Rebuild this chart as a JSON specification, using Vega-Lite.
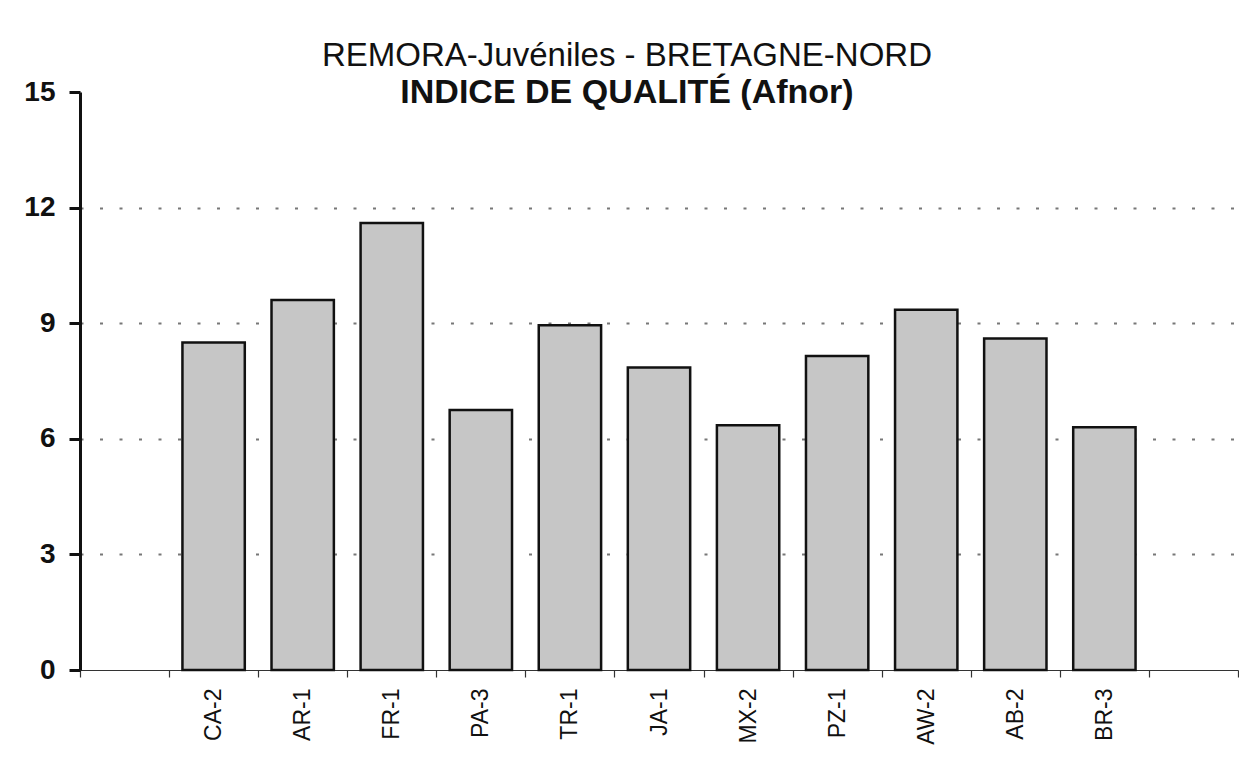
{
  "$schema": "https://vega.github.io/schema/vega-lite/v6.json",
  "width": 1158,
  "height": 578,
  "autosize": {"type": "none"},
  "padding": {"left": 80, "top": 92, "right": 1, "bottom": 91},
  "background": "white",
  "title": {
    "text": "REMORA-Juvéniles - BRETAGNE-NORD",
    "subtitle": "INDICE DE QUALITÉ (Afnor)",
    "anchor": "middle",
    "frame": "group",
    "dx": -32,
    "offset": -32,
    "font": "Liberation Sans",
    "fontSize": 33,
    "fontWeight": "normal",
    "color": "#111111",
    "subtitleFont": "Liberation Sans",
    "subtitleFontSize": 34,
    "subtitleFontWeight": "bold",
    "subtitleColor": "#111111",
    "subtitlePadding": 3
  },
  "data": {
    "values": [
      {"site": "CA-2", "indice": 8.5},
      {"site": "AR-1", "indice": 9.6},
      {"site": "FR-1", "indice": 11.6},
      {"site": "PA-3", "indice": 6.75},
      {"site": "TR-1", "indice": 8.95},
      {"site": "JA-1", "indice": 7.85},
      {"site": "MX-2", "indice": 6.35},
      {"site": "PZ-1", "indice": 8.15},
      {"site": "AW-2", "indice": 9.35},
      {"site": "AB-2", "indice": 8.6},
      {"site": "BR-3", "indice": 6.3}
    ]
  },
  "config": {
    "view": {"stroke": null},
    "font": "Liberation Sans"
  },
  "mark": {
    "type": "bar",
    "fill": "#c6c6c6",
    "stroke": "#111111",
    "strokeWidth": 2.5,
    "width": {"band": 0.7}
  },
  "encoding": {
    "x": {
      "field": "site",
      "type": "nominal",
      "sort": null,
      "scale": {
        "domain": ["", "CA-2", "AR-1", "FR-1", "PA-3", "TR-1", "JA-1", "MX-2", "PZ-1", "AW-2", "AB-2", "BR-3", " "],
        "paddingInner": 0,
        "paddingOuter": 0
      },
      "axis": {
        "title": null,
        "labelAngle": -90,
        "labelAlign": "right",
        "labelBaseline": "middle",
        "labelFont": "Liberation Sans",
        "labelFontSize": 23,
        "labelColor": "#111111",
        "labelPadding": 11,
        "tickBand": "extent",
        "tickSize": 7,
        "tickColor": "#333333",
        "tickWidth": 1.2,
        "domainColor": "#333333",
        "domainWidth": 1.2,
        "grid": false
      }
    },
    "y": {
      "field": "indice",
      "type": "quantitative",
      "scale": {"domain": [0, 15], "nice": false},
      "axis": {
        "title": null,
        "values": [0, 3, 6, 9, 12, 15],
        "labelFont": "Liberation Sans",
        "labelFontSize": 28,
        "labelFontWeight": "bold",
        "labelColor": "#111111",
        "labelPadding": 14,
        "tickSize": 11,
        "tickWidth": 3,
        "tickColor": "#111111",
        "domainWidth": 3,
        "domainColor": "#111111",
        "grid": true,
        "gridColor": "#777777",
        "gridWidth": 2,
        "gridDash": [3, 16.5],
        "gridOpacity": {"condition": {"test": "datum.value === 15 || datum.value === 0", "value": 0}, "value": 1}
      }
    }
  }
}
